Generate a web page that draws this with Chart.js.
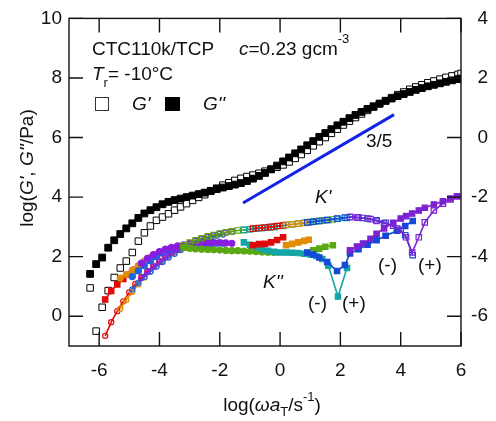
<!DOCTYPE html>
<html>
<head>
<meta charset="utf-8">
<script src="https://cdn.jsdelivr.net/npm/chart.js@4.4.1/dist/chart.umd.min.js"></script>
<style>
  html, body { margin: 0; padding: 0; background: #fff; }
</style>
</head>
<body>
<canvas id="chart" width="496" height="421"></canvas>
<script>
const FONT = '"Liberation Sans", Arial, Helvetica, sans-serif';
const INK = '#111';

// G' (open) and G'' (filled), left axis, log Pa
const gFreq = [-6.3,-6.1,-5.9,-5.7,-5.5,-5.3,-5.1,-4.9,-4.7,-4.5,
  -4.3,-4.1,-3.9,-3.7,-3.5,-3.3,-3.1,-2.9,-2.7,-2.5,
  -2.3,-2.1,-1.9,-1.7,-1.5,-1.3,-1.1,-0.9,-0.7,-0.5,
  -0.3,-0.1,0.1,0.3,0.5,0.7,0.9,1.1,1.3,1.5,
  1.7,1.9,2.1,2.3,2.5,2.7,2.9,3.1,3.3,3.5,
  3.7,3.9,4.1,4.3,4.5,4.7,4.9,5.1,5.3,5.5,
  5.7,5.9,6.0];
const gStorage = [0.95,-0.5,0.3,0.86,1.3,1.62,1.85,2.14,2.52,2.8,
  3.03,3.22,3.33,3.44,3.56,3.67,3.78,3.89,3.99,4.08,
  4.2,4.3,4.4,4.48,4.56,4.63,4.69,4.74,4.8,4.87,
  4.94,5.0,5.08,5.18,5.3,5.43,5.57,5.72,5.86,6.0,
  6.14,6.28,6.42,6.55,6.67,6.79,6.91,7.02,7.13,7.24,
  7.34,7.44,7.53,7.62,7.7,7.77,7.84,7.9,7.96,8.02,
  8.07,8.12,8.15];
const gLoss = [1.42,1.75,1.97,2.3,2.55,2.76,2.95,3.12,3.3,3.45,
  3.56,3.66,3.76,3.84,3.9,3.95,4.0,4.05,4.1,4.15,
  4.21,4.27,4.32,4.37,4.42,4.47,4.54,4.62,4.71,4.81,
  4.93,5.06,5.2,5.33,5.47,5.6,5.74,5.88,6.02,6.15,
  6.28,6.41,6.53,6.65,6.76,6.86,6.96,7.05,7.14,7.23,
  7.31,7.39,7.46,7.53,7.6,7.66,7.72,7.77,7.82,7.87,
  7.92,7.96,7.98];

// slope 3/5 guide line
const slopeFreq = [-1.23, 3.78];
const slopeLog = [3.8, 6.77];

// K' and K'' per temperature segment, right axis
const redFreq = [-5.8,-5.6,-5.4,-5.2,-5.0,-4.8,-4.6,-4.4,-4.2,-4.0,-3.8,-3.6,-3.4,-3.2,-3.0,-2.8];
const redKp   = [-6.66,-6.2,-5.83,-5.5,-5.2,-4.92,-4.68,-4.48,-4.3,-4.14,-4.0,-3.87,-3.76,-3.65,-3.56,-3.47];
const redKpp  = [-5.44,-5.15,-4.93,-4.75,-4.6,-4.44,-4.28,-4.12,-3.98,-3.88,-3.8,-3.74,-3.7,-3.68,-3.67,-3.67];

const orangeFreq = [-5.3,-5.1,-4.9,-4.7,-4.5,-4.3,-4.1,-3.9,-3.7,-3.5,-3.3,-3.1,-2.9,-2.7,-2.5,-2.3];
const orangeKp   = [-5.75,-5.45,-5.18,-4.93,-4.7,-4.5,-4.32,-4.15,-4.0,-3.87,-3.75,-3.64,-3.55,-3.46,-3.39,-3.33];
const orangeKpp  = [-4.72,-4.6,-4.45,-4.3,-4.15,-4.02,-3.92,-3.84,-3.78,-3.73,-3.7,-3.68,-3.68,-3.69,-3.7,-3.71];

const blueFreq = [-4.9,-4.7,-4.5,-4.3,-4.1,-3.9,-3.7,-3.5,-3.3,-3.1,-2.9,-2.7,-2.5,-2.3,-2.1,-1.9];
const blueKp   = [-5.1,-4.88,-4.68,-4.5,-4.33,-4.18,-4.03,-3.9,-3.78,-3.67,-3.57,-3.48,-3.41,-3.35,-3.3,-3.26];
const blueKpp  = [-4.67,-4.48,-4.3,-4.14,-4.0,-3.88,-3.79,-3.72,-3.67,-3.63,-3.6,-3.58,-3.57,-3.56,-3.55,-3.55];

const purpleFreq = [-4.6,-4.4,-4.2,-4.0,-3.8,-3.6,-3.4,-3.2,-3.0,-2.8,-2.6,-2.4,-2.2,-2.0,-1.8,-1.6];
const purpleKp   = [-4.72,-4.52,-4.34,-4.17,-4.02,-3.88,-3.76,-3.65,-3.55,-3.46,-3.39,-3.33,-3.28,-3.23,-3.19,-3.16];
const purpleKpp  = [-4.22,-4.06,-3.93,-3.83,-3.75,-3.69,-3.64,-3.6,-3.57,-3.55,-3.54,-3.53,-3.53,-3.53,-3.54,-3.55];

const greenFreq = [-3.2,-3.0,-2.8,-2.6,-2.4,-2.2,-2.0,-1.8,-1.6,-1.4,-1.2,-1.0,-0.8,-0.6,-0.4,-0.2];
const greenKp   = [-3.62,-3.53,-3.45,-3.38,-3.32,-3.27,-3.22,-3.18,-3.15,-3.12,-3.1,-3.08,-3.06,-3.04,-3.02,-3.0];
const greenKpp  = [-3.7,-3.72,-3.74,-3.75,-3.76,-3.77,-3.78,-3.79,-3.8,-3.8,-3.81,-3.82,-3.83,-3.84,-3.85,-3.86];

const tealFreq = [-1.2,-1.0,-0.8,-0.6,-0.4,-0.2,0,0.2,0.4,0.6,0.8,1.0,1.2,1.4,1.6,1.92,2.22];
const tealKp   = [-3.1,-3.08,-3.06,-3.04,-3.02,-3.0,-2.97,-2.94,-2.92,-2.89,-2.86,-2.84,-2.81,-2.79,-2.77,-2.73,-2.7];
const tealKpp  = [-3.52,-3.6,-3.68,-3.75,-3.8,-3.84,-3.86,-3.86,-3.87,-3.88,-3.9,-3.93,-3.98,-4.08,-4.3,-5.34,-4.38];

const red2Freq = [-0.9,-0.7,-0.5,-0.3,-0.1,0.1];
const red2Kp   = [-3.06,-3.04,-3.02,-3.0,-2.97,-2.95];
const red2Kpp  = [-3.62,-3.58,-3.57,-3.52,-3.44,-3.35];

const orange2Freq = [0.2,0.4,0.6,0.8,0.95];
const orange2Kp   = [-2.93,-2.91,-2.89,-2.87,-2.85];
const orange2Kpp  = [-3.62,-3.57,-3.52,-3.47,-3.43];

const green2Freq = [1.1,1.3,1.5,1.75];
const green2Kp   = [-2.83,-2.8,-2.78,-2.75];
const green2Kpp  = [-3.79,-3.73,-3.67,-3.62];

const navyFreq = [0.9,1.1,1.3,1.56,1.89,2.15,2.32,2.6,2.9,3.2,3.5,3.88,4.15,4.4];
const navyKp   = [-2.85,-2.83,-2.8,-2.77,-2.72,-2.69,-2.67,-2.69,-2.72,-2.78,-2.86,-3.06,-3.28,-3.95];
const navyKpp  = [-3.86,-3.93,-4.03,-4.18,-4.48,-4.28,-3.89,-3.75,-3.6,-3.45,-3.3,-3.13,-2.97,-2.8];

const violetFreq = [2.32,2.55,2.75,3.0,3.2,3.45,3.75,4.0,4.18,4.38,4.6,4.8,5.1,5.4,5.65,5.87];
const violetKp   = [-2.67,-2.68,-2.7,-2.74,-2.8,-2.88,-2.96,-3.1,-3.35,-3.86,-3.35,-2.85,-2.45,-2.22,-2.08,-1.97];
const violetKpp  = [-3.79,-3.66,-3.56,-3.4,-3.23,-3.05,-2.86,-2.72,-2.64,-2.55,-2.45,-2.36,-2.25,-2.14,-2.05,-1.97];

const RED = '#e10a0a', ORANGE = '#e38c00', BLUE = '#1a64e6', PURPLE = '#8a1ee0',
      GREEN = '#5aa812', TEAL = '#14a5a5', NAVY = '#1448d6', VIOLET = '#7d22d2';

function pts(xs, ys) {
  return xs.map((x, i) => ({ x: x, y: ys[i] }));
}

function kSet(color, xs, ys, shape, open) {
  return {
    data: pts(xs, ys),
    yAxisID: 'y2',
    showLine: true,
    borderColor: color,
    borderWidth: 1.6,
    backgroundColor: color,
    pointStyle: shape,
    pointRadius: shape === 'rect' ? 3.8 : (open ? 2.6 : 3),
    pointBorderWidth: 1.2,
    pointBorderColor: color,
    pointBackgroundColor: open ? 'rgba(255,255,255,0)' : color,
  };
}

// listed bottom -> top, reversed below because chart.js paints index 0 last
const layers = [
  { data: pts(gFreq, gStorage), yAxisID: 'y', showLine: false, pointStyle: 'rect',
    pointRadius: 4.6, pointBorderWidth: 1, pointBorderColor: '#000', pointBackgroundColor: '#fff' },
  { data: pts(gFreq, gLoss), yAxisID: 'y', showLine: false, pointStyle: 'rect',
    pointRadius: 4.8, pointBorderWidth: 1, pointBorderColor: '#000', pointBackgroundColor: '#000' },
  { data: pts(slopeFreq, slopeLog), yAxisID: 'y', showLine: true, borderColor: '#1424e6',
    borderWidth: 3, pointRadius: 0 },
  kSet(RED, redFreq, redKp, 'circle', true),
  kSet(RED, redFreq, redKpp, 'rect', false),
  kSet(ORANGE, orangeFreq, orangeKp, 'circle', true),
  kSet(ORANGE, orangeFreq, orangeKpp, 'circle', false),
  kSet(BLUE, blueFreq, blueKp, 'circle', true),
  kSet(BLUE, blueFreq, blueKpp, 'circle', false),
  kSet(PURPLE, purpleFreq, purpleKp, 'circle', true),
  kSet(PURPLE, purpleFreq, purpleKpp, 'circle', false),
  kSet(GREEN, greenFreq, greenKp, 'rect', true),
  kSet(GREEN, greenFreq, greenKpp, 'circle', false),
  kSet(TEAL, tealFreq, tealKp, 'rect', true),
  kSet(TEAL, tealFreq, tealKpp, 'rect', false),
  kSet(RED, red2Freq, red2Kp, 'rect', true),
  kSet(RED, red2Freq, red2Kpp, 'rect', false),
  kSet(ORANGE, orange2Freq, orange2Kp, 'rect', true),
  kSet(ORANGE, orange2Freq, orange2Kpp, 'rect', false),
  kSet(GREEN, green2Freq, green2Kp, 'rect', true),
  kSet(GREEN, green2Freq, green2Kpp, 'rect', false),
  kSet(NAVY, navyFreq, navyKp, 'rect', true),
  kSet(NAVY, navyFreq, navyKpp, 'rect', false),
  kSet(VIOLET, violetFreq, violetKp, 'rect', true),
  kSet(VIOLET, violetFreq, violetKpp, 'rect', false),
];

// draws a run of text pieces: [text, size, italic, dy]
function rich(ctx, parts, x, y, align) {
  const fontOf = p => (p[2] ? 'italic ' : '') + p[1] + 'px ' + FONT;
  let total = 0;
  parts.forEach(p => { ctx.font = fontOf(p); total += ctx.measureText(p[0]).width; });
  let cx = align === 'center' ? x - total / 2 : x;
  parts.forEach(p => {
    ctx.font = fontOf(p);
    ctx.fillText(p[0], cx, y + (p[3] || 0));
    cx += ctx.measureText(p[0]).width;
  });
}

// box with inward ticks on all four sides
const frame = {
  id: 'frame',
  afterDatasetsDraw(chart) {
    const { ctx, chartArea: a, scales } = chart;
    const len = 14;
    ctx.save();
    ctx.strokeStyle = INK;
    ctx.lineWidth = 1.4;
    ctx.strokeRect(a.left, a.top, a.right - a.left, a.bottom - a.top);
    ctx.beginPath();
    scales.x.ticks.forEach(t => {
      const px = scales.x.getPixelForValue(t.value);
      ctx.moveTo(px, a.bottom); ctx.lineTo(px, a.bottom - len);
      ctx.moveTo(px, a.top); ctx.lineTo(px, a.top + len);
    });
    scales.y.ticks.forEach(t => {
      const py = scales.y.getPixelForValue(t.value);
      ctx.moveTo(a.left, py); ctx.lineTo(a.left + len, py);
    });
    scales.y2.ticks.forEach(t => {
      const py = scales.y2.getPixelForValue(t.value);
      ctx.moveTo(a.right, py); ctx.lineTo(a.right - len, py);
    });
    ctx.stroke();
    ctx.restore();
  }
};

const labels = {
  id: 'labels',
  afterDraw(chart) {
    const ctx = chart.ctx;
    ctx.save();
    ctx.fillStyle = INK;
    ctx.textBaseline = 'alphabetic';
    ctx.textAlign = 'left';

    // sample info
    rich(ctx, [['CTC110k/TCP', 19]], 92, 55);
    rich(ctx, [['c', 19, true], ['=0.23 gcm', 19], ['-3', 13, false, -12]], 239, 55);
    rich(ctx, [['T', 19, true], ['r', 13, false, 7], ['= -10°C', 19]], 92, 80);

    // legend
    ctx.strokeStyle = '#333';
    ctx.lineWidth = 1;
    ctx.strokeRect(95.5, 97.5, 13, 13);
    ctx.fillStyle = '#000';
    ctx.fillRect(165, 97, 15, 14);
    ctx.fillStyle = INK;
    rich(ctx, [["G'", 19, true]], 132, 110);
    rich(ctx, [["G''", 19, true]], 203, 110);

    // annotations
    rich(ctx, [['3/5', 19]], 366, 147);
    rich(ctx, [["K'", 19, true]], 315, 203);
    rich(ctx, [["K''", 19, true]], 263, 288);
    rich(ctx, [['(-)', 19]], 308, 309);
    rich(ctx, [['(+)', 19]], 342, 309);
    rich(ctx, [['(-)', 19]], 378, 271);
    rich(ctx, [['(+)', 19]], 418, 271);

    // axis titles
    rich(ctx, [['log(', 19], ['ω', 19, true], ['a', 19, true], ['T', 13, false, 5],
               ['/s', 19], ['-1', 13, false, -10], [')', 19]], 272, 411, 'center');
    ctx.translate(33, 168);
    ctx.rotate(-Math.PI / 2);
    rich(ctx, [['log(', 19], ["G'", 19, true], [', ', 19], ["G''", 19, true], ['/Pa)', 19]], 0, 0, 'center');
    ctx.restore();
  }
};

const tickFont = { family: FONT, size: 19 };

new Chart(document.getElementById('chart'), {
  type: 'scatter',
  data: { datasets: layers.slice().reverse() },
  options: {
    responsive: false,
    animation: false,
    layout: { padding: { top: 14, right: 8, bottom: 0, left: 0 } },
    plugins: { legend: { display: false }, tooltip: { enabled: false } },
    scales: {
      x: {
        type: 'linear', min: -7, max: 6,
        grid: { display: false, drawTicks: false },
        border: { display: false },
        ticks: { stepSize: 2, includeBounds: false, padding: 13, color: INK, font: tickFont },
        afterFit: s => { s.height = 75; }
      },
      y: {
        type: 'linear', position: 'left', min: -1, max: 10,
        grid: { display: false, drawTicks: false },
        border: { display: false },
        ticks: { stepSize: 2, includeBounds: false, padding: 7, color: INK, font: tickFont },
        afterFit: s => { s.width = 69; }
      },
      y2: {
        type: 'linear', position: 'right', min: -7, max: 4,
        grid: { display: false, drawTicks: false },
        border: { display: false },
        ticks: { stepSize: 2, includeBounds: false, crossAlign: 'far', color: INK, font: tickFont },
        afterFit: s => { s.width = 27; }
      }
    }
  },
  plugins: [frame, labels]
});
</script>
</body>
</html>
